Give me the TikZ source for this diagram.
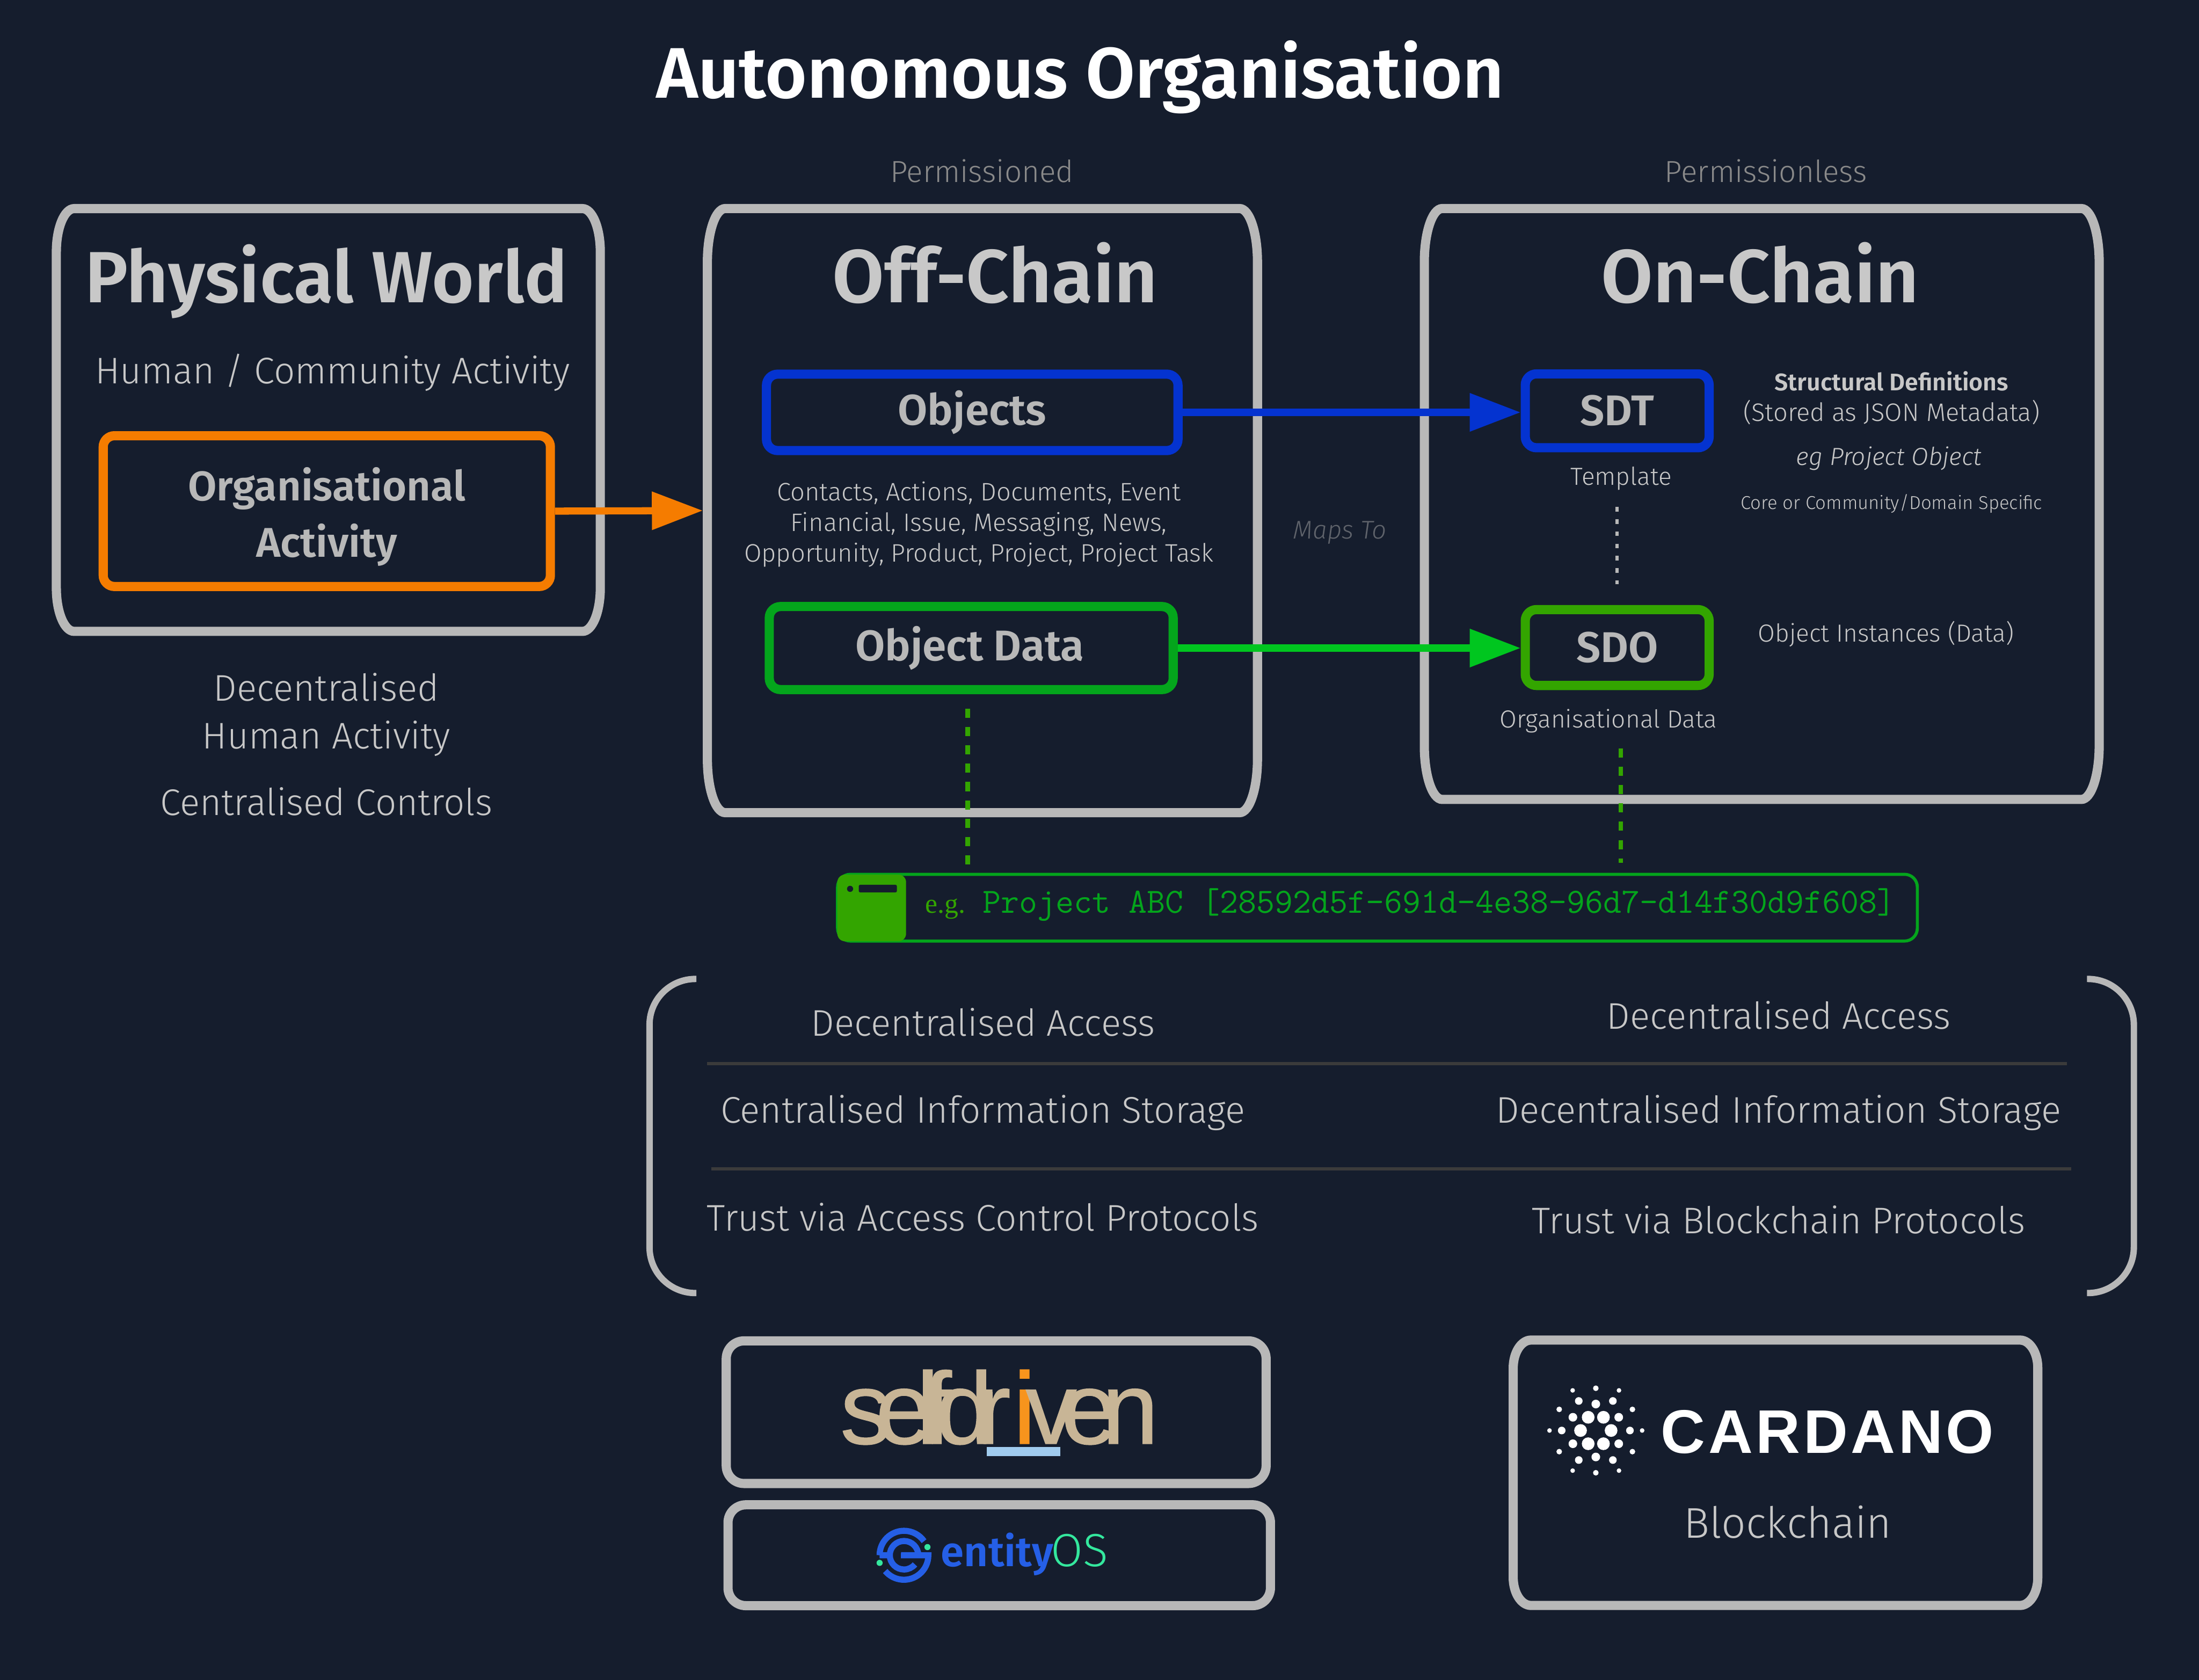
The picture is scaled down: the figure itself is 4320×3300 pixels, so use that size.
\documentclass[tikz,border=0pt]{standalone}
\usepackage{fontspec}
\usepackage{xcolor}
\usetikzlibrary{arrows.meta}
\setmainfont{Fira Sans}[UprightFont=* Light,ItalicFont=* Light Italic,BoldFont=* SemiBold]
\newfontfamily\logofont{Liberation Sans}[LetterSpace=-15.5,FakeBold=0.8]
\newfontfamily\cardanofont{Liberation Sans Bold}[LetterSpace=5]
\newfontfamily\egfont{Liberation Serif}
\definecolor{pagebg}{HTML}{151D2D}
\definecolor{boxgrey}{HTML}{B8B8B8}
\definecolor{textgrey}{HTML}{C8C8C8}
\definecolor{mutedgrey}{HTML}{8A8A8A}
\definecolor{mapsgrey}{HTML}{5F636B}
\definecolor{ruleline}{HTML}{3B3B3B}
\definecolor{orangeline}{HTML}{F57C00}
\definecolor{blueline}{HTML}{0433D0}
\definecolor{greenbox}{HTML}{33A500}
\definecolor{greenarrow}{HTML}{00C61F}
\definecolor{greenterm}{HTML}{04A51C}
\definecolor{logotan}{HTML}{C8B596}
\definecolor{logoorange}{HTML}{F7941D}
\definecolor{logoblue}{HTML}{A0CBEE}
\definecolor{entityblue}{HTML}{255FE6}
\definecolor{entitygreen}{HTML}{34E89E}
\tikzset{
  panelbox/.style={inner sep=0pt, outer sep=0pt},
  logobox/.style={draw=boxgrey, line width=0.18cm, rounded corners=0.35cm, inner sep=0pt},
  itembox/.style={line width=0.18cm, rounded corners=0.22cm, inner sep=0pt, text=boxgrey, font=\fontsize{24}{28}\selectfont\bfseries},
  paneltitle/.style={text=textgrey, anchor=base, font=\fontsize{42}{46}\selectfont\bfseries},
  bigtext/.style={text=textgrey, align=center, font=\fontsize{20.7}{28}\selectfont},
  midtext/.style={text=textgrey, align=center, font=\fontsize{13.8}{17}\selectfont},
  linkarrow/.style={line width=0.14cm, -{Triangle[length=1cm,width=0.72cm]}},
  linkdash/.style={line width=0.09cm, dash pattern=on 0.18cm off 0.18cm}
}
% outline with stretched corners, node name then x and y radius
\newcommand{\softoutline}[3]{
  \draw[boxgrey, line width=0.18cm] ([xshift=#2]#1.north west) -- ([xshift=-#2]#1.north east)
    arc[start angle=90, end angle=0, x radius=#2, y radius=#3] -- ([yshift=#3]#1.south east)
    arc[start angle=0, end angle=-90, x radius=#2, y radius=#3] -- ([xshift=#2]#1.south west)
    arc[start angle=-90, end angle=-180, x radius=#2, y radius=#3] -- ([yshift=-#3]#1.north west)
    arc[start angle=180, end angle=90, x radius=#2, y radius=#3] -- cycle;
}
\begin{document}
\begin{tikzpicture}[x=0.01cm,y=-0.01cm]
\fill[pagebg] (0,0) rectangle (4320,3300);
\useasboundingbox (0,0) rectangle (4320,3300);

\node[text=white, font=\fontsize{40}{44}\selectfont\bfseries] (title) at (2122,152) {Autonomous Organisation};
\node[text=mutedgrey, font=\fontsize{17}{20}\selectfont] (permissioned) at (1929,336) {Permissioned};
\node[text=mutedgrey, font=\fontsize{17}{20}\selectfont] (permissionless) at (3469,336) {Permissionless};

% panels
\node[panelbox, minimum width=10.68cm, minimum height=8.30cm] (physical) at (645,825) {};
\node[panelbox, minimum width=10.80cm, minimum height=11.86cm] (offchain) at (1930,1003) {};
\node[panelbox, minimum width=13.25cm, minimum height=11.60cm] (onchain) at (3461,990) {};
\softoutline{physical}{0.35cm}{0.85cm}
\softoutline{offchain}{0.35cm}{1.05cm}
\softoutline{onchain}{0.35cm}{1.05cm}
\node[paneltitle, font=\fontsize{40.5}{46}\selectfont\bfseries] (physicaltitle) at (641,594) {Physical World};
\node[paneltitle] (offtitle) at (1955,594) {Off-Chain};
\node[paneltitle] (ontitle) at (3458,594) {On-Chain};
\node[bigtext] (human) at (653,732) {Human / Community Activity};

% items
\node[itembox, draw=orangeline, minimum width=8.78cm, minimum height=2.96cm] (orgact) at (642,1004) {};
\node[text=boxgrey, align=center, font=\fontsize{23.2}{28}\selectfont\bfseries] (orgactlabel) at (642,1015) {Organisational\\[0.12cm]Activity};
\node[itembox, draw=blueline, minimum width=8.08cm, minimum height=1.5cm] (objects) at (1910,810) {Objects};
\node[itembox, draw=greenterm, minimum width=7.93cm, minimum height=1.63cm] (objectdata) at (1908,1273) {Object Data\hspace*{0.06cm}};
\node[itembox, draw=blueline, minimum width=3.61cm, minimum height=1.45cm] (sdt) at (3177,807) {SDT};
\node[itembox, draw=greenbox, minimum width=3.61cm, minimum height=1.49cm] (sdo) at (3177,1272) {SDO};

\draw[linkarrow, orangeline] (orgact.east) -- ([xshift=-0.09cm]offchain.west);
\draw[linkarrow, blueline] (objects.east) -- (objects -| sdt.west);
\draw[linkarrow, greenarrow] (objectdata.east) -- (objectdata -| sdo.west);

\node[midtext, font=\fontsize{14.1}{17}\selectfont] (objectlist) at (1923,1030) {Contacts, Actions, Documents, Event\\Financial, Issue, Messaging, News,\\Opportunity, Product, Project, Project Task};
\node[text=mapsgrey, font=\fontsize{14.3}{16}\selectfont\itshape] (mapsto) at (2632,1046) {Maps To};
\node[midtext] (template) at (3185,940) {Template};
\node[midtext] (orgdata) at (3160,1416) {Organisational Data};
\node[midtext, font=\fontsize{13.4}{16}\selectfont\bfseries] (structdef) at (3716,749) {Structural Definitions};
\node[midtext, font=\fontsize{14.1}{17}\selectfont] (stored) at (3716,810) {(Stored as JSON Metadata)};
\node[midtext, font=\fontsize{13.8}{16}\selectfont\itshape] (egproject) at (3711,901) {eg Project Object};
\node[midtext, font=\fontsize{10.4}{14}\selectfont] (coreor) at (3716,989) {Core or Community/Domain Specific};
\node[midtext] (instances) at (3705,1245) {Object Instances (Data)};

\coordinate (templatefoot) at (3177,996);
\coordinate (sdohead) at (3177,1148);
\draw[line width=0.06cm, boxgrey, dash pattern=on 0.09cm off 0.15cm] (templatefoot) -- (sdohead); % template to instance
\node[bigtext] (decent) at (641,1350) {Decentralised};
\node[bigtext] (humanact) at (641,1451) {Human Activity};
\node[bigtext] (central) at (641,1575) {Centralised Controls};

% id bar
\node[draw=greenterm, line width=0.06cm, rounded corners=0.25cm, minimum width=21.2cm, minimum height=1.31cm, inner sep=0pt] (idbar) at (2706,1783) {};
\fill[greenbox, rounded corners=0.15cm] (1645,1718) rectangle (1780,1849);
\fill[pagebg] (1670,1746) circle (6);
\fill[pagebg, rounded corners=0.03cm] (1687,1738) rectangle (1762,1753);
\node[text=greenbox, font=\fontsize{15.5}{18}\egfont, anchor=base west, inner sep=0pt] (eg) at (1817,1793) {e.g.};
\node[text=greenterm, font=\fontsize{19.8}{22}\selectfont\ttfamily, anchor=base west, inner sep=0pt] (projectid) at (1930,1793) {Project ABC [28592d5f-691d-4e38-96d7-d14f30d9f608]};
\coordinate (leftdashtop) at (1901,1392);
\coordinate (leftdashfoot) at (1901,1698);
\coordinate (rightdashtop) at (3184,1470);
\coordinate (rightdashfoot) at (3184,1695);
\draw[linkdash, greenbox] (leftdashtop) -- (leftdashfoot);
\draw[linkdash, greenbox] (rightdashtop) -- (rightdashfoot);

% comparison
\draw[line width=0.125cm, boxgrey, rounded corners=0.9cm] (1368,1923) -- (1276,1923) -- (1276,2540) -- (1368,2540);
\draw[line width=0.125cm, boxgrey, rounded corners=0.9cm] (4100,1923) -- (4192,1923) -- (4192,2540) -- (4100,2540);
\coordinate (ruleaw) at (1389,2089);
\coordinate (ruleae) at (4061,2089);
\coordinate (rulebw) at (1397,2296);
\coordinate (rulebe) at (4069,2296);
\draw[line width=0.06cm, ruleline] (ruleaw) -- (ruleae);
\draw[line width=0.06cm, ruleline] (rulebw) -- (rulebe);
\node[bigtext] (leftaccess) at (1931,2008) {Decentralised Access};
\node[bigtext] (leftstore) at (1931,2186) {Centralised Information Storage};
\node[bigtext] (lefttrust) at (1931,2391) {Trust via Access Control Protocols};
\node[bigtext] (rightaccess) at (3494,1994) {Decentralised Access};
\node[bigtext] (rightstore) at (3494,2186) {Decentralised Information Storage};
\node[bigtext] (righttrust) at (3494,2396) {Trust via Blockchain Protocols};

% logos
\node[logobox, minimum width=10.6cm, minimum height=2.8cm] (selfbox) at (1957,2774) {};
\node[logobox, minimum width=10.65cm, minimum height=1.98cm] (entitybox) at (1963,3055) {};
\node[panelbox, minimum width=10.3cm, minimum height=5.21cm] (cardanobox) at (3488,2893) {};
\softoutline{cardanobox}{0.35cm}{0.55cm}

\node[text=logotan, font=\fontsize{57}{60}\logofont, anchor=base west, inner sep=0pt] (selfword) at (1650,2836) {selfdr\kern0.05cm\textcolor{logoorange}{i}\kern-0.2cm ven};
\fill[logoblue] (1938,2842) rectangle (2083,2860);

\begin{scope}[shift={(1776,3055)}, line width=0.12cm, entityblue]
  \draw (-48,0) arc[start angle=180, end angle=325, radius=48];
  \draw (-37,31) arc[start angle=140, end angle=0, radius=48] -- (-6,0);
  \draw (-48,0) -- (-28,0) arc[start angle=180, end angle=360, radius=28];
  \draw (-28,0) arc[start angle=180, end angle=40, radius=28];
  \fill[entitygreen] (46,-16) circle (6) (-48,15) circle (6);
\end{scope}
\node[text=entityblue, font=\fontsize{23.4}{28}\selectfont\bfseries, anchor=base west, inner sep=0pt] (entityword) at (1848,3077) {entity};
\node[text=entitygreen, font=\fontsize{26}{28}\selectfont, anchor=base west, inner sep=0pt] (osword) at (2064,3077) {OS};

\foreach \r/\s/\a in {30/12.5/0, 52/8.5/30, 67/7.5/0, 83/5.5/30, 91/4.5/0} {
  \foreach \k in {0,60,...,300} {
    \fill[white] (3135,2810) ++({\a+\k}:\r) circle (\s);
  }
}
\node[text=white, font=\fontsize{34.4}{38}\cardanofont, anchor=base west, inner sep=0pt] (cardanoword) at (3262,2854) {CARDANO};
\node[bigtext, font=\fontsize{24}{28}\selectfont] (blockchain) at (3512,2990) {Blockchain};
\end{tikzpicture}
\end{document}
